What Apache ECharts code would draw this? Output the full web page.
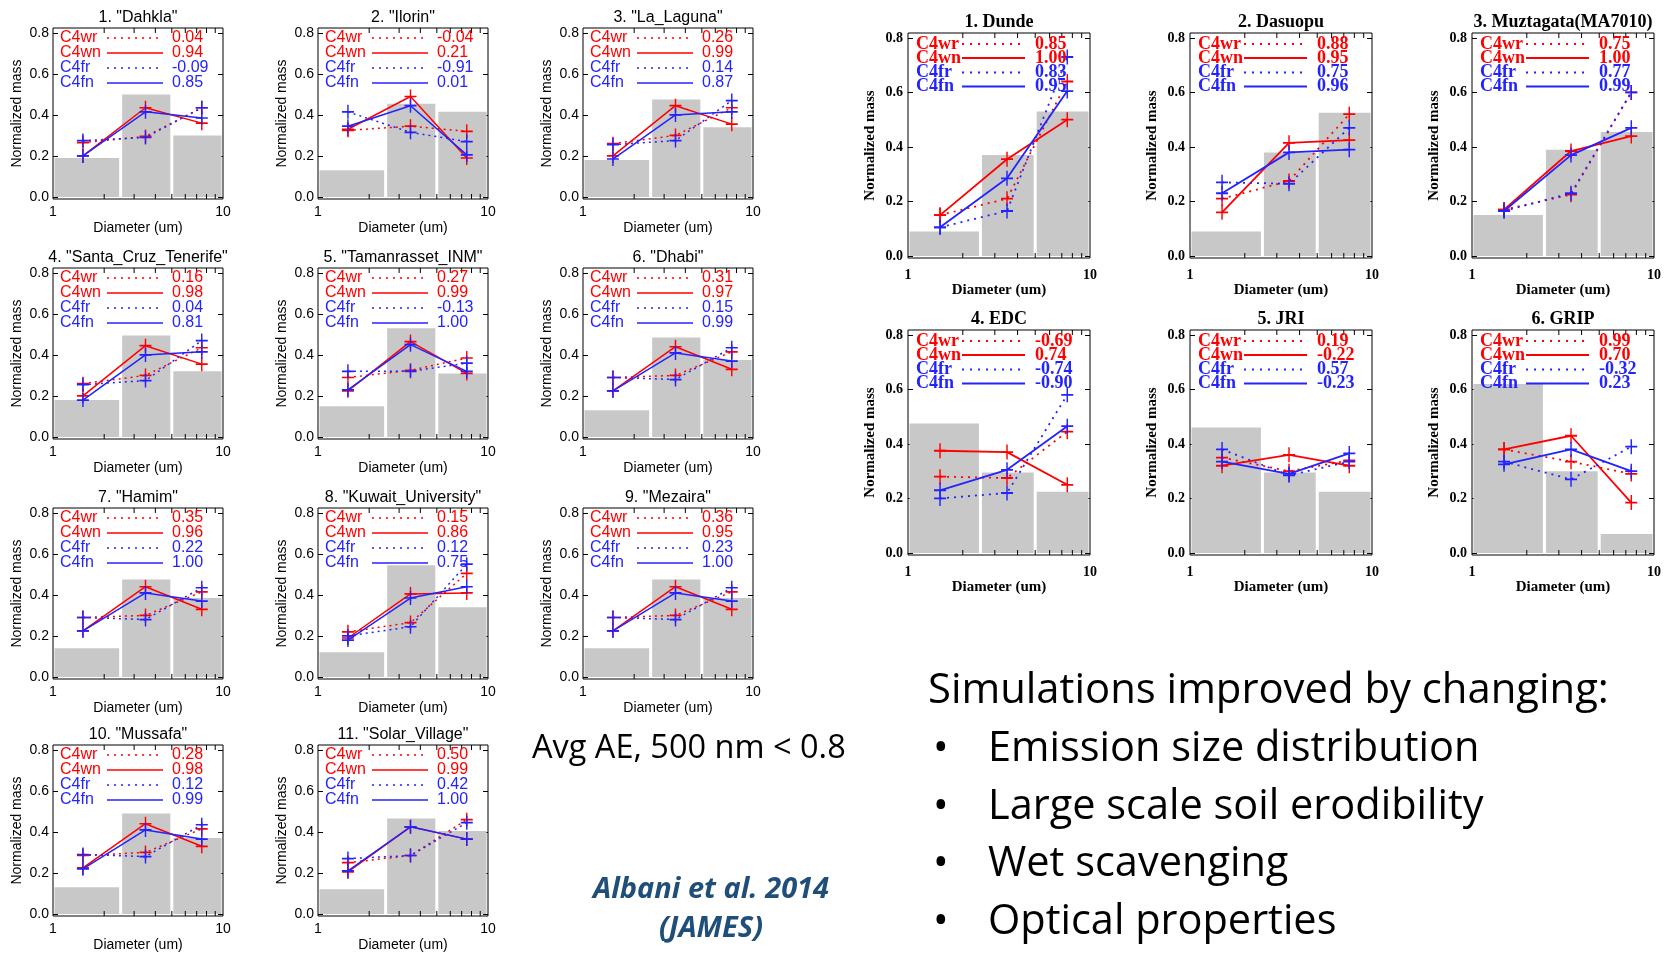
<!DOCTYPE html>
<html>
<head>
<meta charset="utf-8">
<script src="https://cdn.jsdelivr.net/npm/echarts@6/dist/echarts.min.js"></script>
<style>
html,body{margin:0;padding:0;background:#fff;}
#chart{width:1666px;height:953px;}
</style>
</head>
<body>
<div id="chart"></div>
<script>
// ---------------- DATA ----------------
const binEdges = [1, 2.5, 5, 10];
const xPoints = [1.5, 3.5, 7.5];
const minorTickValues = [2, 3, 4, 5, 6, 7, 8, 9];
const yTickValues = [0, 0.2, 0.4, 0.6, 0.8];
const seriesNames = ['C4wr', 'C4wn', 'C4fr', 'C4fn'];

const titlesLeft = ['1. "Dahkla"', '2. "Ilorin"', '3. "La_Laguna"', '4. "Santa_Cruz_Tenerife"',
  '5. "Tamanrasset_INM"', '6. "Dhabi"', '7. "Hamim"', '8. "Kuwait_University"',
  '9. "Mezaira"', '10. "Mussafa"', '11. "Solar_Village"'];
const obsLeft = [
  [0.19, 0.50, 0.30], [0.13, 0.455, 0.415], [0.18, 0.475, 0.34], [0.18, 0.495, 0.32],
  [0.15, 0.53, 0.31], [0.13, 0.485, 0.375], [0.14, 0.475, 0.385], [0.12, 0.545, 0.34],
  [0.14, 0.475, 0.385], [0.13, 0.49, 0.37], [0.12, 0.465, 0.405]];
const c4wrLeft = [
  [0.265, 0.295, 0.435], [0.325, 0.345, 0.32], [0.26, 0.30, 0.435], [0.26, 0.30, 0.435],
  [0.29, 0.325, 0.385], [0.29, 0.30, 0.415], [0.29, 0.30, 0.415], [0.22, 0.265, 0.505],
  [0.29, 0.30, 0.415], [0.285, 0.30, 0.415], [0.25, 0.285, 0.46]];
const c4wnLeft = [
  [0.20, 0.435, 0.36], [0.33, 0.49, 0.19], [0.20, 0.445, 0.355], [0.20, 0.445, 0.355],
  [0.225, 0.465, 0.31], [0.225, 0.44, 0.33], [0.225, 0.44, 0.33], [0.19, 0.405, 0.41],
  [0.225, 0.44, 0.33], [0.225, 0.44, 0.33], [0.205, 0.425, 0.365]];
const c4frLeft = [
  [0.275, 0.29, 0.435], [0.415, 0.315, 0.27], [0.255, 0.275, 0.47], [0.255, 0.275, 0.47],
  [0.32, 0.32, 0.36], [0.29, 0.28, 0.435], [0.29, 0.28, 0.435], [0.20, 0.245, 0.55],
  [0.29, 0.28, 0.435], [0.29, 0.28, 0.435], [0.27, 0.285, 0.445]];
const c4fnLeft = [
  [0.20, 0.415, 0.385], [0.345, 0.445, 0.205], [0.185, 0.40, 0.415], [0.18, 0.40, 0.415],
  [0.23, 0.45, 0.32], [0.225, 0.41, 0.37], [0.225, 0.41, 0.37], [0.18, 0.385, 0.44],
  [0.225, 0.41, 0.37], [0.22, 0.41, 0.365], [0.21, 0.425, 0.365]];
const corrLeft = [
  [0.04, 0.94, -0.09, 0.85], [-0.04, 0.21, -0.91, 0.01], [0.26, 0.99, 0.14, 0.87],
  [0.16, 0.98, 0.04, 0.81], [0.27, 0.99, -0.13, 1.00], [0.31, 0.97, 0.15, 0.99],
  [0.35, 0.96, 0.22, 1.00], [0.15, 0.86, 0.12, 0.75], [0.36, 0.95, 0.23, 1.00],
  [0.28, 0.98, 0.12, 0.99], [0.50, 0.99, 0.42, 1.00]];

const titlesRight = ['1. Dunde', '2. Dasuopu', '3. Muztagata(MA7010)', '4. EDC', '5. JRI', '6. GRIP'];
const obsRight = [[0.09, 0.37, 0.53], [0.09, 0.38, 0.525], [0.15, 0.39, 0.455],
  [0.475, 0.295, 0.225], [0.46, 0.295, 0.225], [0.62, 0.30, 0.07]];
const c4wrRight = [[0.15, 0.21, 0.64], [0.21, 0.275, 0.52], [0.17, 0.225, 0.60],
  [0.28, 0.275, 0.445], [0.35, 0.30, 0.34], [0.38, 0.335, 0.29]];
const c4wnRight = [[0.15, 0.355, 0.50], [0.16, 0.415, 0.425], [0.17, 0.385, 0.44],
  [0.375, 0.37, 0.25], [0.32, 0.36, 0.32], [0.38, 0.43, 0.185]];
const c4frRight = [[0.105, 0.165, 0.73], [0.27, 0.265, 0.47], [0.165, 0.23, 0.60],
  [0.20, 0.22, 0.58], [0.38, 0.285, 0.335], [0.335, 0.27, 0.39]];
const c4fnRight = [[0.105, 0.285, 0.605], [0.23, 0.38, 0.39], [0.165, 0.37, 0.47],
  [0.23, 0.305, 0.465], [0.335, 0.29, 0.365], [0.325, 0.38, 0.30]];
const corrRight = [[0.85, 1.00, 0.83, 0.95], [0.88, 0.95, 0.75, 0.96], [0.75, 1.00, 0.77, 0.99],
  [-0.69, 0.74, -0.74, -0.90], [0.19, -0.22, 0.57, -0.23], [0.99, 0.70, -0.32, 0.23]];

const noteText = 'Avg AE, 500 nm < 0.8';
const citeLines = ['Albani et al. 2014', '(JAMES)'];
const headText = 'Simulations improved by changing:';
const bulletItems = ['Emission size distribution', 'Large scale soil erodibility', 'Wet scavenging', 'Optical properties'];

// ---------------- STYLE / LAYOUT ----------------
const RED = '#ff0000', BLUE = '#2323ff', BAR = '#c8c8c8';
const SANS = '"Liberation Sans", Arial, sans-serif';
const SERIF = '"Liberation Serif", "Times New Roman", serif';
const NOTE = '"Open Sans", sans-serif';
const PLUS = 'path://M-1,-0.12H-0.12V-1H0.12V-0.12H1V0.12H0.12V1H-0.12V0.12H-1Z';

const leftColX = [53, 318, 583], leftRowY = [28, 268, 508, 745];
const rightColX = [908, 1190, 1472], rightRowY = [33, 330];

const panels = [];
titlesLeft.forEach((t, i) => {
  panels.push({
    kind: 'L', title: t, left: leftColX[i % 3], top: leftRowY[Math.floor(i / 3)], w: 170, h: 171,
    ymin: -0.01, ymax: 0.824,
    obs: obsLeft[i], lines: [c4wrLeft[i], c4wnLeft[i], c4frLeft[i], c4fnLeft[i]], corr: corrLeft[i]
  });
});
titlesRight.forEach((t, i) => {
  panels.push({
    kind: 'R', title: t, left: rightColX[i % 3], top: rightRowY[Math.floor(i / 3)], w: 182, h: 225,
    ymin: -0.0075, ymax: 0.818,
    obs: obsRight[i], lines: [c4wrRight[i], c4wnRight[i], c4frRight[i], c4fnRight[i]], corr: corrRight[i]
  });
});

const grid = [], xAxis = [], yAxis = [], series = [], graphic = [];
const lineColors = [RED, RED, BLUE, BLUE];

panels.forEach((p, k) => {
  const isL = p.kind === 'L';
  const font = isL ? SANS : SERIF;
  const fw = isL ? 'normal' : 'bold';
  grid.push({ left: p.left, top: p.top, width: p.w, height: p.h, show: true,
    borderColor: '#000', borderWidth: 1, backgroundColor: 'transparent' });
  const labelStyle = { fontFamily: font, fontWeight: fw, fontSize: 14, color: '#000' };
  xAxis.push({
    type: 'log', logBase: 10, min: 1, max: 10, gridIndex: k, position: 'bottom',
    axisLine: { show: false }, splitLine: { show: false }, axisTick: { show: false },
    axisLabel: Object.assign({ margin: isL ? 6 : 10 }, labelStyle),
    name: 'Diameter (um)', nameLocation: 'middle', nameGap: isL ? 22 : 23,
    nameTextStyle: { fontFamily: font, fontWeight: fw, fontSize: isL ? 14 : 15, color: '#000' }
  });
  xAxis.push({
    type: 'log', logBase: 10, min: 1, max: 10, gridIndex: k, position: 'top',
    axisLine: { show: false }, splitLine: { show: false }, axisTick: { show: false },
    axisLabel: { show: false }
  });
  yAxis.push({
    type: 'value', min: p.ymin, max: p.ymax, gridIndex: k, position: 'left',
    axisLine: { show: false }, splitLine: { show: false },
    axisTick: { show: true, inside: true, length: 5, customValues: yTickValues, lineStyle: { color: '#000' } },
    axisLabel: Object.assign({ margin: isL ? 4 : 5, customValues: yTickValues,
      formatter: v => Number(v).toFixed(1) }, labelStyle),
    name: 'Normalized mass', nameLocation: 'middle', nameGap: isL ? 29 : 30,
    nameTextStyle: { fontFamily: font, fontWeight: fw, fontSize: isL ? 14 : 15, color: '#000' }
  });
  yAxis.push({
    type: 'value', min: p.ymin, max: p.ymax, gridIndex: k, position: 'right',
    axisLine: { show: false }, splitLine: { show: false },
    axisTick: { show: true, inside: true, length: 5, customValues: yTickValues, lineStyle: { color: '#000' } },
    axisLabel: { show: false }
  });
  const xi = 2 * k, yi = 2 * k;
  // gray observation bars over size bins
  series.push({
    type: 'custom', xAxisIndex: xi, yAxisIndex: yi, z: 1, silent: true, animation: false,
    data: p.obs.map((v, b) => [binEdges[b], binEdges[b + 1], v]),
    encode: { x: [0, 1], y: 2 },
    renderItem: (params, api) => {
      const a = api.coord([api.value(0), api.value(2)]);
      const b = api.coord([api.value(1), 0]);
      const g = 1.5;
      return { type: 'rect', shape: { x: a[0] + g, y: a[1], width: b[0] - a[0] - 2 * g, height: b[1] - a[1] },
        style: { fill: BAR } };
    }
  });
  // log minor ticks, bottom and top
  series.push({
    type: 'custom', xAxisIndex: xi, yAxisIndex: yi, z: 5, silent: true, animation: false,
    data: minorTickValues.map(v => [v, 0]),
    renderItem: (params, api) => {
      const cs = params.coordSys;
      const x = api.coord([api.value(0), 0])[0];
      const yb = cs.y + cs.height, yt = cs.y;
      return { type: 'group', children: [
        { type: 'line', shape: { x1: x, y1: yb, x2: x, y2: yb - 5 }, style: { stroke: '#000', lineWidth: 1 } },
        { type: 'line', shape: { x1: x, y1: yt, x2: x, y2: yt + 5 }, style: { stroke: '#000', lineWidth: 1 } }
      ] };
    }
  });
  // model lines
  p.lines.forEach((vals, s) => {
    const dotted = s % 2 === 0;
    series.push({
      type: 'line', name: seriesNames[s], xAxisIndex: xi, yAxisIndex: yi, z: 3 + (s >= 2 ? 1 : 0),
      silent: true, animation: false,
      data: xPoints.map((x, j) => [x, vals[j]]),
      symbol: PLUS, symbolSize: isL ? [12, 14] : [12, 15], symbolKeepAspect: false,
      itemStyle: { color: lineColors[s] },
      lineStyle: { color: lineColors[s], width: isL ? 1.5 : 1.8, type: dotted ? (isL ? [2, 4] : [2, 5]) : 'solid' }
    });
  });
  // title
  graphic.push({ type: 'text', silent: true, style: {
    text: p.title, x: p.left + p.w / 2, y: p.top - (isL ? 10 : 11),
    textAlign: 'center', textVerticalAlign: 'middle',
    font: (isL ? 'normal 16px ' : 'bold 18px ') + font, fill: '#000' } });
  // in-plot legend with correlation values
  const rowOff = isL ? [10, 25, 40, 55] : [11, 25, 39.5, 53.5];
  seriesNames.forEach((nm, s) => {
    const yy = p.top + rowOff[s];
    const col = lineColors[s];
    const f = isL ? 'normal 16px ' + SANS : 'bold 18px ' + SERIF;
    graphic.push({ type: 'text', silent: true, z: 10, style: { text: nm, x: p.left + (isL ? 7 : 8), y: yy,
      textVerticalAlign: 'middle', font: f, fill: col } });
    graphic.push({ type: 'line', silent: true, z: 10, shape: { x1: p.left + 54, y1: yy, x2: p.left + (isL ? 110 : 117), y2: yy },
      style: { stroke: col, lineWidth: isL ? 1.5 : 1.8, lineDash: s % 2 === 0 ? (isL ? [2, 5] : [2, 6]) : null } });
    graphic.push({ type: 'text', silent: true, z: 10, style: { text: p.corr[s].toFixed(2), x: p.left + (isL ? 119 : 127), y: yy,
      textVerticalAlign: 'middle', font: f, fill: col } });
  });
});

// free text on the slide
graphic.push({ type: 'text', silent: true, style: { text: noteText, x: 532, y: 749, textVerticalAlign: 'middle',
  font: 'normal 32.5px ' + NOTE, fill: '#000' } });
citeLines.forEach((t, i) => graphic.push({ type: 'text', silent: true, style: { text: t, x: 711, y: 890 + i * 39,
  textAlign: 'center', textVerticalAlign: 'middle', font: 'italic bold 29px ' + NOTE, fill: '#1f4e79' } }));
graphic.push({ type: 'text', silent: true, style: { text: headText, x: 928, y: 691, textVerticalAlign: 'middle',
  font: 'normal 41.8px ' + NOTE, fill: '#000' } });
bulletItems.forEach((t, i) => {
  const yy = 749 + i * 57.7;
  graphic.push({ type: 'text', silent: true, style: { text: '\u2022', x: 933, y: yy, textVerticalAlign: 'middle',
    font: 'normal 41.5px ' + NOTE, fill: '#000' } });
  graphic.push({ type: 'text', silent: true, style: { text: t, x: 988, y: yy, textVerticalAlign: 'middle',
    font: 'normal 41.5px ' + NOTE, fill: '#000' } });
});

const chart = echarts.init(document.getElementById('chart'), null, { renderer: 'canvas' });
chart.setOption({
  backgroundColor: '#fff',
  animation: false,
  grid, xAxis, yAxis, series, graphic
});
</script>
</body>
</html>
